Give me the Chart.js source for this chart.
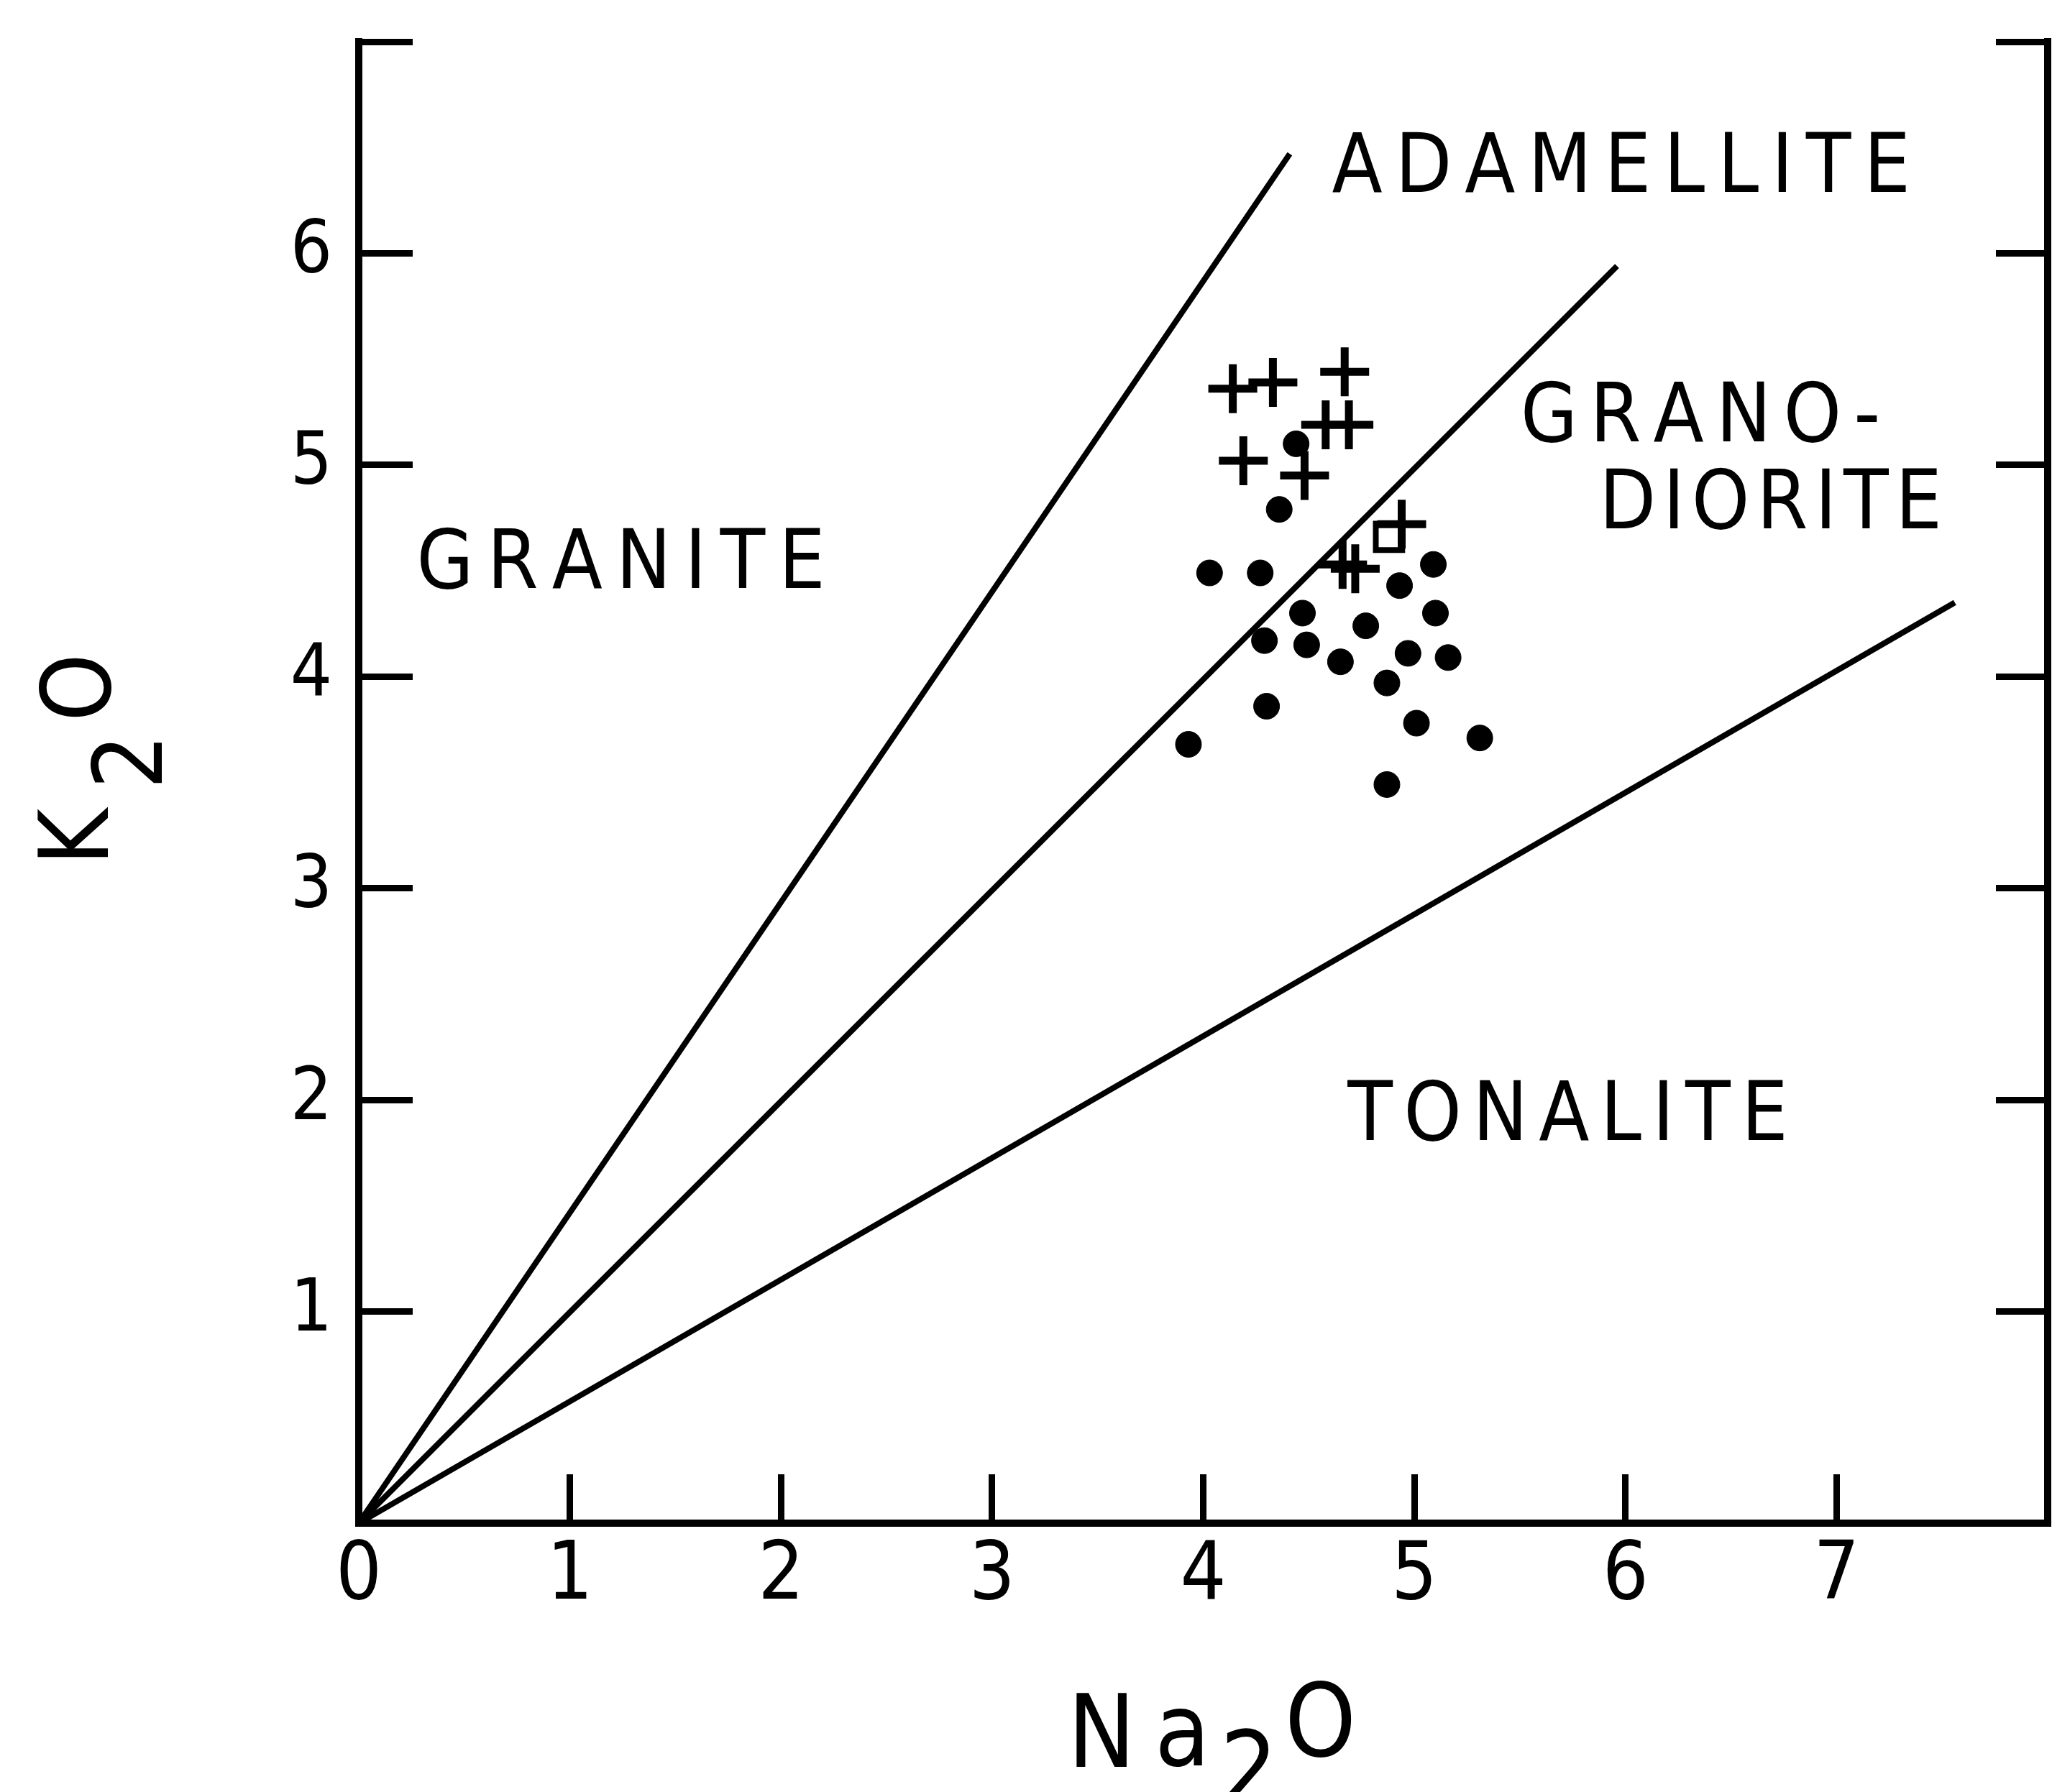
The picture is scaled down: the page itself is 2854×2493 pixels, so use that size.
<!DOCTYPE html>
<html>
<head>
<meta charset="utf-8">
<script src="https://cdn.jsdelivr.net/npm/chart.js@4"></script>
<style>
  html, body { margin: 0; padding: 0; background: #fff; }
  canvas { display: block; }
</style>
</head>
<body>
<canvas id="chart" width="2854" height="2493"></canvas>
<script>
'use strict';

// samples shown as filled dots
const dotNa2O = [3.93, 4.03, 4.27, 4.29, 4.30, 4.36, 4.44, 4.47, 4.49, 4.65, 4.77, 4.87, 4.93, 4.97, 5.09, 5.10, 5.16, 5.01, 5.31, 4.87];
const dotK2O  = [3.68, 4.49, 4.49, 4.17, 3.86, 4.79, 5.10, 4.30, 4.15, 4.07, 4.24, 3.97, 4.43, 4.11, 4.53, 4.30, 4.09, 3.78, 3.71, 3.49];

// samples shown as crosses
const crossNa2O = [4.14, 4.33, 4.67, 4.58, 4.69, 4.19, 4.48, 4.94, 4.66, 4.72];
const crossK2O  = [5.36, 5.39, 5.44, 5.19, 5.19, 5.02, 4.95, 4.72, 4.53, 4.51];

// the single open square
const squareNa2O = [4.88];
const squareK2O  = [4.66];

// field boundaries, all drawn from the origin
const boundaryNa2O = [4.41, 5.96, 7.56];
const boundaryK2O  = [6.47, 5.94, 4.35];

const xTickLabels = ['0', '1', '2', '3', '4', '5', '6', '7', ''];
const yTickLabels = ['', '1', '2', '3', '4', '5', '6', ''];

const FONT = '"DejaVu Sans Condensed", "Liberation Sans Narrow", "DejaVu Sans", sans-serif';

// field names, anchored in data units (left, right, baseline)
const fieldLabels = [
    { text: 'ADAMELLITE', from: 4.61, to: 7.33, base: 6.29, size: 114 },
    { text: 'GRANO-',     from: 5.52, to: 7.19, base: 5.11, size: 114 },
    { text: 'DIORITE',    from: 5.91, to: 7.48, base: 4.70, size: 114 },
    { text: 'GRANITE',    from: 0.29, to: 2.19, base: 4.42, size: 114 },
    { text: 'TONALITE',   from: 4.68, to: 6.75, base: 1.81, size: 114 }
];

function toPoints(xs, ys) {
    return xs.map((v, i) => ({ x: v, y: ys[i] }));
}

function boundary(i) {
    return [{ x: 0, y: 0 }, { x: boundaryNa2O[i], y: boundaryK2O[i] }];
}

// draw text with the letters spread so the ink runs from left to right
function spacedText(ctx, text, left, right, base) {
    const chars = [...text];
    const adv = chars.map(c => ctx.measureText(c).width);
    const first = ctx.measureText(chars[0]);
    const last = ctx.measureText(chars[chars.length - 1]);
    let inner = 0;
    for (let i = 0; i < chars.length - 1; i++) inner += adv[i];
    const ink = inner + first.actualBoundingBoxLeft + last.actualBoundingBoxRight;
    const gap = chars.length > 1 ? (right - left - ink) / (chars.length - 1) : 0;
    let x = left + first.actualBoundingBoxLeft;
    chars.forEach((c, i) => {
        ctx.fillText(c, x, base);
        x += adv[i] + gap;
    });
}

// put one glyph so its ink starts at inkLeft
function glyph(ctx, ch, inkLeft, base) {
    const m = ctx.measureText(ch);
    ctx.fillText(ch, inkLeft + m.actualBoundingBoxLeft, base);
}

const labelPlugin = {
    id: 'fieldLabels',
    afterDraw(chart) {
        const ctx = chart.ctx;
        const x = chart.scales.x;
        const y = chart.scales.y;
        ctx.save();
        ctx.fillStyle = '#000';
        ctx.textAlign = 'left';
        ctx.textBaseline = 'alphabetic';

        fieldLabels.forEach(l => {
            ctx.font = l.size + 'px ' + FONT;
            spacedText(ctx, l.text, x.getPixelForValue(l.from), x.getPixelForValue(l.to), y.getPixelForValue(l.base));
        });

        // x title: Na2O
        ctx.font = '140px ' + FONT;
        glyph(ctx, 'N', 1497, 2458);
        glyph(ctx, 'a', 1613, 2456);
        glyph(ctx, '2', 1706, 2509);
        glyph(ctx, 'O', 1794, 2443);

        // y title: K2O, rotated
        ctx.translate(150, 1193);
        ctx.rotate(-Math.PI / 2);
        ctx.font = '134px ' + FONT;
        glyph(ctx, 'K', 0, 0);
        glyph(ctx, '2', 103, 75);
        glyph(ctx, 'O', 195, 3);
        ctx.restore();
    }
};

// keep the plot frame where the layout padding puts it
function fixY(width) {
    return s => {
        s.width = width;
        s.paddingTop = 0;
        s.paddingBottom = 0;
    };
}

const ctx = document.getElementById('chart').getContext('2d');

new Chart(ctx, {
    type: 'scatter',
    data: {
        datasets: [
            {
                label: 'boundary 1',
                data: boundary(0),
                showLine: true,
                borderColor: '#000',
                borderWidth: 8,
                pointRadius: 0
            },
            {
                label: 'boundary 2',
                data: boundary(1),
                showLine: true,
                borderColor: '#000',
                borderWidth: 8,
                pointRadius: 0
            },
            {
                label: 'boundary 3',
                data: boundary(2),
                showLine: true,
                borderColor: '#000',
                borderWidth: 8,
                pointRadius: 0
            },
            {
                label: 'dots',
                data: toPoints(dotNa2O, dotK2O),
                pointStyle: 'circle',
                pointRadius: 18,
                backgroundColor: '#000',
                borderColor: '#000',
                borderWidth: 1
            },
            {
                label: 'crosses',
                data: toPoints(crossNa2O, crossK2O),
                pointStyle: 'cross',
                pointRadius: 34,
                borderColor: '#000',
                borderWidth: 11
            },
            {
                label: 'square',
                data: toPoints(squareNa2O, squareK2O),
                pointStyle: 'rect',
                pointRadius: 26,
                backgroundColor: 'rgba(0,0,0,0)',
                borderColor: '#000',
                borderWidth: 8
            }
        ]
    },
    options: {
        responsive: false,
        animation: false,
        layout: { autoPadding: false, padding: { top: 58, right: 6, left: 0, bottom: 0 } },
        plugins: {
            legend: { display: false },
            tooltip: { enabled: false }
        },
        scales: {
            x: {
                type: 'linear',
                position: 'bottom',
                min: 0,
                max: 8,
                afterFit: s => {
                    s.height = 374;
                    s.paddingLeft = 0;
                    s.paddingRight = 0;
                },
                ticks: {
                    stepSize: 1,
                    color: '#000',
                    padding: 77,
                    font: { size: 112, family: FONT },
                    callback: (v, i) => xTickLabels[i]
                },
                grid: { drawOnChartArea: false, tickLength: -68, lineWidth: 9, color: '#000' },
                border: { display: true, width: 10, color: '#000' }
            },
            y: {
                type: 'linear',
                position: 'left',
                min: 0,
                max: 7,
                afterFit: fixY(499),
                ticks: {
                    stepSize: 1,
                    color: '#000',
                    padding: 112,
                    font: { size: 102, family: FONT },
                    callback: (v, i) => yTickLabels[i]
                },
                grid: { drawOnChartArea: false, tickLength: -75, lineWidth: 9, color: '#000' },
                border: { display: true, width: 10, color: '#000' }
            },
            y2: {
                type: 'linear',
                position: 'right',
                min: 0,
                max: 7,
                afterFit: fixY(0),
                ticks: { stepSize: 1, display: false },
                grid: { drawOnChartArea: false, tickLength: -72, lineWidth: 9, color: '#000' },
                border: { display: true, width: 10, color: '#000' }
            }
        }
    },
    plugins: [labelPlugin]
});
</script>
</body>
</html>
